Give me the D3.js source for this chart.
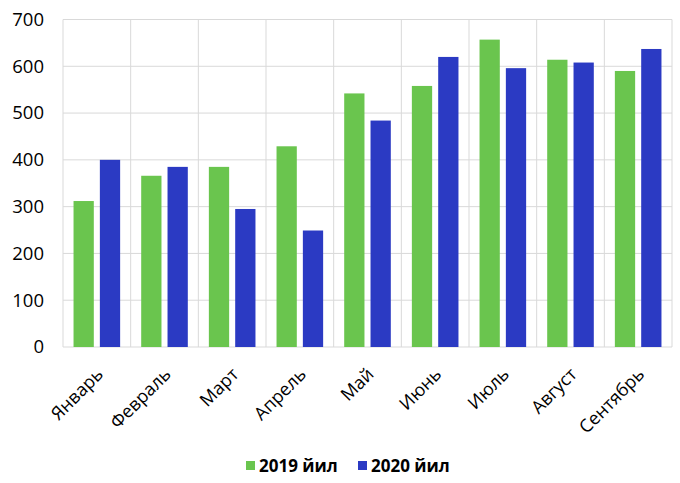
<!DOCTYPE html>
<html><head><meta charset="utf-8">
<script src="https://cdn.jsdelivr.net/npm/d3@7"></script>
<style>body{margin:0;background:#fff}svg{display:block}</style>
</head><body>
<svg id="c" width="680" height="483"></svg>
<script>
const categories = ["Январь","Февраль","Март","Апрель","Май","Июнь","Июль","Август","Сентябрь"];
const series2019 = [312,366,385,429,542,558,657,614,590];
const series2020 = [400,385,295,249,484,620,596,608,637];
const seriesNames = ["2019 йил","2020 йил"];
const yTicks = [0,100,200,300,400,500,600,700];
const colors = ["#6AC54E","#2B3AC3"];

const svg = d3.select("#c");
const m = {l:63, r:680-672, t:19.5, b:483-347};
const W = 680, H = 483;
const x = d3.scaleBand().domain(categories).range([m.l, W-m.r]);
const y = d3.scaleLinear().domain([0,700]).range([H-m.b, m.t]);
const sub = d3.scaleBand().domain([0,1]).range([0, x.bandwidth()]).paddingInner(0.23).paddingOuter(0.4);
const font = "'Open Sans', sans-serif";

svg.append("g").selectAll("line").data(yTicks).join("line")
  .attr("x1", m.l).attr("x2", W-m.r)
  .attr("y1", d=>y(d)).attr("y2", d=>y(d))
  .attr("stroke", "#D9D9D9").attr("stroke-width", 1);
const bounds = categories.map(c=>x(c)).concat([x(categories[categories.length-1])+x.bandwidth()]);
svg.append("g").selectAll("line").data(bounds).join("line")
  .attr("x1", d=>d).attr("x2", d=>d)
  .attr("y1", y(700)).attr("y2", y(0))
  .attr("stroke", "#D9D9D9").attr("stroke-width", 1);

const data = categories.map((c,i)=>({c, v:[series2019[i], series2020[i]]}));
const g = svg.append("g").selectAll("g").data(data).join("g")
  .attr("transform", d=>`translate(${x(d.c)},0)`);
g.selectAll("rect").data(d=>d.v.map((v,k)=>({v,k}))).join("rect")
  .attr("x", d=>sub(d.k)).attr("width", sub.bandwidth())
  .attr("y", d=>y(d.v)).attr("height", d=>y(0)-y(d.v))
  .attr("fill", d=>colors[d.k]);

const yAxis = d3.axisLeft(y).tickValues(yTicks).tickSize(0).tickPadding(19);
const ya = svg.append("g").attr("transform", `translate(${m.l},0)`).call(yAxis);
ya.select(".domain").remove();
ya.selectAll("text").attr("font-family", font).attr("font-size", 18.5).attr("fill", "#000");

const xAxis = d3.axisBottom(x).tickSize(0).tickPadding(0);
const xa = svg.append("g").attr("transform", `translate(0,${y(0)})`).call(xAxis);
xa.select(".domain").remove();
xa.selectAll("text")
  .attr("font-family", font).attr("font-size", 18).attr("fill", "#000")
  .attr("text-anchor", "end").attr("dy", "0.35em")
  .attr("transform", "translate(3,24) rotate(-45)");

const lg = svg.append("g").attr("transform", "translate(0,466)");
const lx = [246, 358];
seriesNames.forEach((n,k)=>{
  lg.append("rect").attr("x", lx[k]).attr("y", -5).attr("width", 9).attr("height", 9).attr("fill", colors[k]);
  lg.append("text").attr("x", lx[k]+13).attr("y", 0).attr("dy", "0.35em")
    .attr("font-family", font).attr("font-weight", "bold").attr("font-size", 17).attr("fill", "#000").text(n);
});
</script>
</body></html>
